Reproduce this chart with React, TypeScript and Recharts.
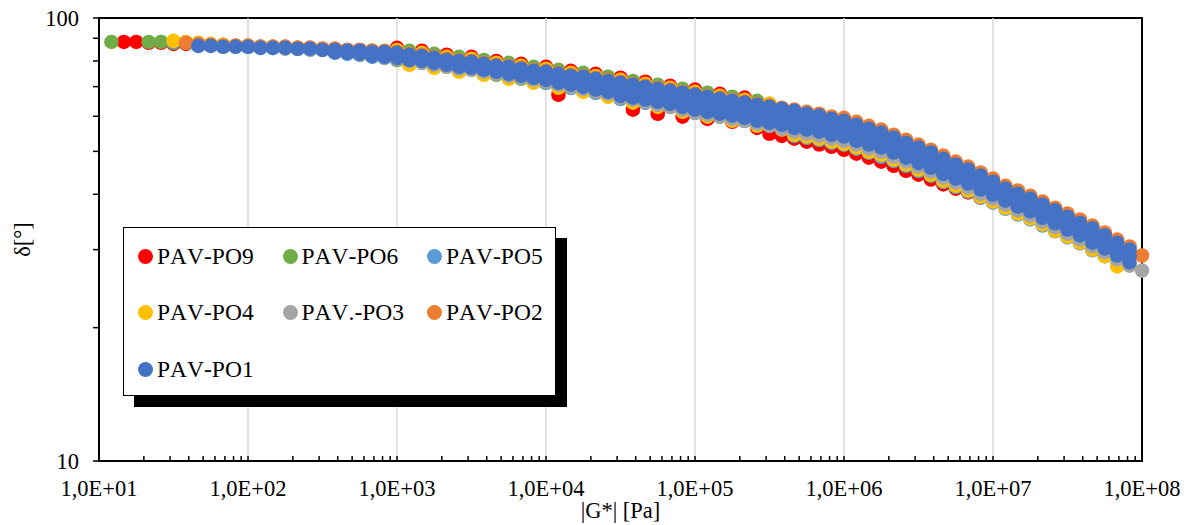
import React from 'react';
import { ScatterChart, Scatter, XAxis, YAxis, ReferenceLine, ReferenceArea } from 'recharts';

// |G*| values (Pa) at which the delta readings below are taken (shared by all samples)
const gGrid = [
  10, 12.12, 14.68, 17.78, 21.54, 26.1, 31.62, 38.31, 46.42, 56.23, 68.13, 82.54,
  100, 121.2, 146.8, 177.8, 215.4, 261, 316.2, 383.1, 464.2, 562.3, 681.3, 825.4,
  1000, 1212, 1468, 1778, 2154, 2610, 3162, 3831, 4642, 5623, 6813, 8254,
  1e4, 1.212e4, 1.468e4, 1.778e4, 2.154e4, 2.61e4, 3.162e4, 3.831e4, 4.642e4, 5.623e4, 6.813e4, 8.254e4,
  1e5, 1.212e5, 1.468e5, 1.778e5, 2.154e5, 2.61e5, 3.162e5, 3.831e5, 4.642e5, 5.623e5, 6.813e5, 8.254e5,
  1e6, 1.212e6, 1.468e6, 1.778e6, 2.154e6, 2.61e6, 3.162e6, 3.831e6, 4.642e6, 5.623e6, 6.813e6, 8.254e6,
  1e7, 1.212e7, 1.468e7, 1.778e7, 2.154e7, 2.61e7, 3.162e7, 3.831e7, 4.642e7, 5.623e7, 6.813e7, 8.254e7,
  1e8,
];

// delta [deg] per sample, starting at gGrid[start]
const po9Start = 2;
const po9 = [
  88.3, 88.3, 87.9, 87.9, 87.4, 87.4, 87.0, 87.0, 86.5, 86.5,
  86.5, 86.1, 86.1, 86.1, 85.6, 85.6, 85.2, 85.2, 84.7, 84.7,
  84.3, 83.8, 85.6, 78.8, 84.3, 77.6, 82.6, 76.0, 81.7, 74.8,
  80.0, 73.3, 78.8, 71.8, 77.6, 67.1, 76.0, 68.5, 74.8, 66.7,
  73.3, 62.1, 71.8, 60.8, 70.3, 59.9, 68.9, 59.2, 67.4, 58.3,
  66.1, 56.5, 54.8, 54.2, 53.4, 52.6, 51.8, 51.2, 50.4, 49.4,
  48.4, 47.4, 46.4, 45.2, 44.3, 43.2, 42.1, 41.2, 40.4, 39.3,
];

const po6Start = 1;
const po6 = [
  88.3, null, null, 88.3, 88.3, 87.9, 87.9, 87.4, 87.0, 87.0,
  86.5, 86.5, 86.1, 86.1, 85.6, 85.6, 85.2, 85.2, 84.7, 84.7,
  84.3, 84.3, 83.8, 80.4, 84.3, 79.2, 83.0, 77.6, 81.7, 76.4,
  80.4, 74.4, 79.2, 72.9, 77.6, 71.4, 76.4, 69.6, 75.2, 67.8,
  73.7, 65.7, 72.1, 64.4, 70.7, 63.0, 69.2, 61.1, 67.8, 59.9,
  66.4, 58.6, 65.0, 64.0, 56.5, 54.2, 53.7, 53.1, 52.3, 51.8,
  50.7, 49.7, 48.9, 47.6, 46.4, 45.2, 44.1, 42.7, 41.6, 40.6,
];

const po5Start = 6;
const po5 = [
  88.3, 87.9, 87.4, 87.0, 87.0, 86.5, 86.1, 86.1, 85.6, 85.6,
  85.2, 85.2, 84.7, 83.4, 83.0, 82.6, 81.7, 81.3, 80.9, 80.0,
  79.6, 78.8, 78.0, 77.2, 76.8, 76.0, 75.2, 74.4, 73.7, 72.9,
  71.4, 70.3, 69.6, 68.9, 67.8, 67.1, 65.7, 65.0, 64.4, 63.7,
  63.0, 62.1, 61.1, 60.5, 59.9, 59.2, 58.6, 57.7, 57.1, 56.5,
  54.2, 53.7, 53.1, 52.3, 51.8, 50.7, 49.7, 48.6, 47.6, 46.4,
  45.2, 44.1, 42.7, 41.6, 40.6, 39.3, 38.3, 37.1, 36.0, 35.1,
  34.0, 33.0, 32.0, 31.0, 29.9, 29.0, 27.6,
];

const po4Start = 6;
const po4 = [
  88.8, 88.3, 87.9, 87.4, 87.0, 86.5, 86.5, 86.1, 86.1, 85.6,
  85.6, 85.2, 84.7, 84.3, 83.8, 83.4, 82.6, 82.1, 84.7, 78.4,
  83.4, 77.2, 81.7, 75.6, 80.9, 74.4, 79.2, 72.9, 78.0, 71.4,
  76.8, 69.6, 75.2, 68.1, 74.0, 66.4, 72.5, 64.4, 71.0, 63.0,
  69.6, 61.4, 68.1, 59.9, 66.7, 58.6, 65.4, 57.1, 64.0, 56.0,
  54.5, 54.0, 53.4, 52.6, 52.0, 51.0, 49.9, 49.1, 47.9, 46.7,
  45.5, 44.3, 42.9, 41.8, 40.8, 39.5, 38.5, 37.3, 36.2, 35.3,
  34.2, 33.1, 32.1, 31.1, 30.0, 29.0, 27.5,
];

const po3Start = 8;
const po3 = [
  86.5, 86.5, 86.1, 86.1, 86.1, 85.6, 85.6, 85.2, 85.2, 84.7,
  84.7, 83.8, 83.4, 82.6, 82.1, 81.3, 80.9, 80.0, 79.2, 78.4,
  77.6, 76.8, 76.4, 75.6, 74.8, 74.0, 73.3, 72.5, 71.8, 70.7,
  69.9, 69.2, 68.1, 67.4, 66.1, 65.4, 64.7, 63.7, 63.0, 62.1,
  61.1, 60.5, 59.9, 59.2, 58.6, 57.7, 57.1, 56.2, 55.4, 54.8,
  54.2, 53.4, 52.8, 51.8, 50.7, 49.9, 48.6, 47.4, 46.2, 45.0,
  43.6, 42.5, 41.4, 40.1, 39.1, 37.9, 36.8, 35.8, 34.7, 33.7,
  32.6, 31.6, 30.5, 29.6, 28.5, 27.6, 26.9,
];

const po2Start = 7;
const po2 = [
  87.9, 87.4, 87.0, 86.5, 86.5, 86.5, 86.1, 86.1, 86.1, 85.6,
  85.6, 85.2, 85.2, 84.7, 84.7, 84.3, 84.3, 83.8, 83.0, 82.6,
  81.7, 80.9, 80.4, 80.0, 79.2, 78.4, 78.0, 77.2, 76.4, 76.0,
  75.2, 74.4, 74.0, 73.3, 72.5, 71.8, 71.0, 70.3, 69.6, 68.9,
  68.1, 67.4, 66.7, 66.1, 65.4, 64.7, 64.0, 63.4, 62.7, 62.1,
  61.4, 60.8, 59.9, 59.5, 58.3, 57.1, 56.0, 54.5, 53.1, 51.8,
  50.4, 48.9, 47.4, 46.2, 44.8, 43.4, 41.8, 40.8, 39.7, 38.5,
  37.3, 36.2, 35.1, 34.0, 32.8, 31.6, 30.5, 29.1,
];

// PO1 dots fill the whole blue band: upper edge, middle and lower edge rows
const po1UpperStart = 8;
const po1Upper = [
  86.5, 86.5, 86.1, 86.1, 86.1, 85.6, 85.6, 85.6, 85.2, 85.2,
  84.7, 84.7, 84.3, 84.3, 83.8, 83.8, 83.4, 82.6, 82.1, 81.3,
  80.4, 80.0, 79.6, 78.8, 78.0, 77.6, 76.8, 76.0, 75.6, 74.8,
  74.0, 73.7, 72.9, 72.1, 71.4, 70.7, 69.9, 69.2, 68.5, 67.8,
  67.1, 66.4, 65.7, 65.0, 64.4, 63.7, 63.0, 62.4, 61.7, 60.8,
  60.2, 59.2, 58.6, 57.4, 56.2, 55.1, 53.7, 52.3, 51.0, 49.7,
  48.1, 46.7, 45.5, 44.1, 42.7, 41.2, 40.1, 39.1, 37.9, 36.8,
  35.6, 34.5, 33.5, 32.3, 31.1, 30.0,
];

const po1MidStart = 36;
const po1Mid = [
  74.0, 73.1, 72.3, 71.8, 70.9, 70.1, 69.0, 68.4, 67.6, 66.9,
  66.2, 65.4, 64.6, 63.9, 63.2, 62.6, 61.9, 61.1, 60.5, 59.8,
  59.0, 58.4, 57.8, 56.8, 56.3, 55.1, 54.0, 53.0, 51.7, 50.3,
  49.0, 47.8, 46.3, 45.0, 43.9, 42.5, 41.3, 39.9, 38.8, 37.8,
  36.6, 35.6, 34.4, 33.4, 32.3, 31.2, 30.1, 29.0,
];

const po1LowerStart = 19;
const po1Lower = [
  83.8, 83.4, 83.0, 82.1, 81.7, 81.3, 80.4, 80.0, 79.2, 78.4,
  77.6, 77.2, 76.4, 75.6, 74.8, 74.0, 73.3, 72.5, 71.4, 70.7,
  69.9, 68.9, 68.1, 66.7, 66.1, 65.4, 64.7, 64.0, 63.0, 62.1,
  61.4, 60.8, 60.2, 59.5, 58.6, 58.0, 57.4, 56.5, 56.0, 55.4,
  54.5, 54.0, 52.8, 51.8, 51.0, 49.7, 48.4, 47.1, 45.9, 44.5,
  43.4, 42.3, 41.0, 39.9, 38.7, 37.5, 36.6, 35.4, 34.4, 33.3,
  32.3, 31.1, 30.2, 29.1, 28.1,
];

const toPoints = (start: number, d: (number | null)[]) =>
  d
    .map((v, i) => (v == null ? null : { g: gGrid[start + i], d: v }))
    .filter((p): p is { g: number; d: number } => p !== null);

const series = [
  { name: 'PAV-PO9', color: '#FF0000', data: toPoints(po9Start, po9) },
  { name: 'PAV-PO6', color: '#70AD47', data: toPoints(po6Start, po6) },
  { name: 'PAV-PO5', color: '#5B9BD5', data: toPoints(po5Start, po5) },
  { name: 'PAV-PO4', color: '#FFC000', data: toPoints(po4Start, po4) },
  { name: 'PAV.-PO3', color: '#A5A5A5', data: toPoints(po3Start, po3) },
  { name: 'PAV-PO2', color: '#ED7D31', data: toPoints(po2Start, po2) },
  {
    name: 'PAV-PO1',
    color: '#4472C4',
    data: [
      ...toPoints(po1LowerStart, po1Lower),
      ...toPoints(po1MidStart, po1Mid),
      ...toPoints(po1UpperStart, po1Upper),
    ],
  },
];

const decades = [1e1, 1e2, 1e3, 1e4, 1e5, 1e6, 1e7, 1e8];
const xTicks = decades.flatMap((d, i) =>
  i === decades.length - 1 ? [d] : [1, 2, 3, 4, 5, 6, 7, 8, 9].map((m) => m * d)
);
const yTicks = [10, 20, 30, 40, 50, 60, 70, 80, 90, 100];
const yLabels = [10, 100];
const gridX = [1e2, 1e3, 1e4, 1e5, 1e6, 1e7];

const FONT = "'Liberation Serif', 'Times New Roman', serif";
const W = 1190;
const H = 525;
const DOT_R = 7.3;

const isDecade = (v: number) => Math.abs(Math.log10(v) - Math.round(Math.log10(v))) < 1e-6;
const sci = (v: number) => `1,0E+${String(Math.round(Math.log10(v))).padStart(2, '0')}`;

function XTick({ x, y, payload }: any) {
  const major = isDecade(payload.value);
  return (
    <g>
      <line x1={x} x2={x} y1={y} y2={y - 5} stroke="#000" strokeWidth={1.5} />
      {major && (
        <text x={x} y={y + 35} textAnchor="middle" fontFamily={FONT} fontSize={22.5} fill="#000">
          {sci(payload.value)}
        </text>
      )}
    </g>
  );
}

function YTick({ x, y, payload }: any) {
  return (
    <g>
      <line x1={x - 6} x2={x} y1={y} y2={y} stroke="#000" strokeWidth={1.5} />
      {yLabels.includes(payload.value) && (
        <text x={x - 20} y={y + 8} textAnchor="end" fontFamily={FONT} fontSize={22.5} fill="#000">
          {payload.value}
        </text>
      )}
    </g>
  );
}

function XTitle({ viewBox }: any) {
  const vb = viewBox || { x: 99, y: 461, width: 1043, height: 64 };
  return (
    <text x={vb.x + vb.width / 2} y={vb.y + 57} textAnchor="middle" fontFamily={FONT} fontSize={22.5} fill="#000">
      |G*| [Pa]
    </text>
  );
}

function YTitle({ viewBox }: any) {
  const vb = viewBox || { x: 0, y: 18, width: 99, height: 443 };
  const cx = vb.x + 22;
  const cy = vb.y + vb.height / 2;
  return (
    <text
      x={cx}
      y={cy}
      transform={`rotate(-90 ${cx} ${cy})`}
      textAnchor="middle"
      dominantBaseline="central"
      fontFamily={FONT}
      fontSize={22.5}
      fill="#000"
    >
      δ[°]
    </text>
  );
}

function LegendBox() {
  return (
    <div
      style={{
        position: 'absolute',
        left: 123,
        top: 227,
        width: 431,
        height: 167,
        border: '1.5px solid #000',
        background: '#fff',
        boxShadow: '11px 11px 0 #000',
        fontFamily: FONT,
        fontSize: 23.5,
        color: '#000',
      }}
    >
      {series.map((s, i) => (
        <div
          key={s.name}
          style={{
            position: 'absolute',
            left: 14 + (i % 3) * 144.5,
            top: 12 + Math.floor(i / 3) * 56.5,
            height: 32,
            display: 'flex',
            alignItems: 'center',
            whiteSpace: 'nowrap',
          }}
        >
          <span
            style={{
              display: 'inline-block',
              width: 15,
              height: 15,
              borderRadius: '50%',
              background: s.color,
              marginRight: 4,
            }}
          />
          <span>{s.name}</span>
        </div>
      ))}
    </div>
  );
}

export default function App() {
  return (
    <div
      style={{
        position: 'absolute',
        left: 0,
        top: 0,
        width: W,
        height: H,
        background: '#fff',
        fontKerning: 'none',
      }}
    >
      <ScatterChart width={W} height={H} margin={{ top: 18, right: 48, bottom: 0, left: 0 }}>
        <XAxis
          type="number"
          dataKey="g"
          scale="log"
          domain={[10, 1e8]}
          ticks={xTicks}
          interval={0}
          height={64}
          tickSize={0}
          tickMargin={0}
          tickLine={false}
          tick={<XTick />}
          axisLine={{ stroke: '#000', strokeWidth: 2 }}
          label={<XTitle />}
        />
        <YAxis
          type="number"
          dataKey="d"
          scale="log"
          domain={[10, 100]}
          ticks={yTicks}
          interval={0}
          width={99}
          tickSize={0}
          tickMargin={0}
          tickLine={false}
          tick={<YTick />}
          axisLine={{ stroke: '#000', strokeWidth: 2 }}
          label={<YTitle />}
        />
        {gridX.map((v) => (
          <ReferenceLine key={v} x={v} stroke="#D9D9D9" strokeWidth={1.5} />
        ))}
        <ReferenceArea x1={10} x2={1e8} y1={10} y2={100} fill="none" stroke="#000" strokeWidth={2} />
        {series.map((s) => (
          <Scatter
            key={s.name}
            name={s.name}
            data={s.data}
            fill={s.color}
            isAnimationActive={false}
            shape={(p: any) => <circle cx={p.cx} cy={p.cy} r={DOT_R} fill={s.color} />}
          />
        ))}
      </ScatterChart>
      <LegendBox />
    </div>
  );
}
